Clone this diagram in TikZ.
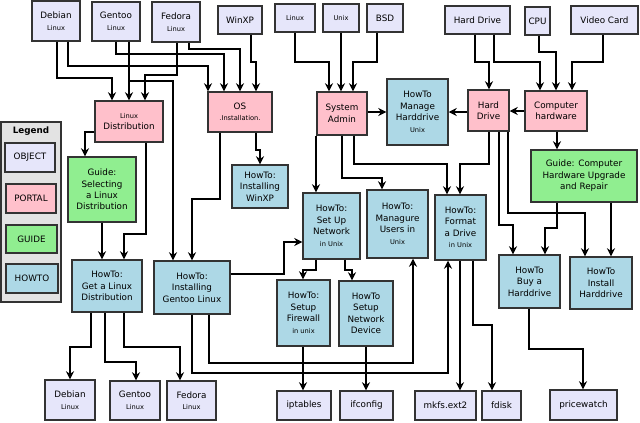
\documentclass[tikz,border=0pt]{standalone}
\usepackage{fontspec}
\setmainfont{DejaVu Sans}
\usetikzlibrary{arrows.meta}
\definecolor{objc}{HTML}{E6E6FA}
\definecolor{porc}{HTML}{FFC0CB}
\definecolor{guic}{HTML}{90EE90}
\definecolor{howc}{HTML}{ADD8E6}
\newcommand{\sm}[1]{{\fontsize{5}{7}\selectfont #1}}
\begin{document}
\begin{tikzpicture}[x=0.75pt,y=-0.75pt,
  bx/.style 2 args={draw=black!80,line width=1.1pt,minimum width=#1*0.75pt,minimum height=#2*0.75pt,inner sep=0pt,align=center,font=\fontsize{6.6}{8.6}\selectfont},
  obj/.style={fill=objc},por/.style={fill=porc},gui/.style={fill=guic},how/.style={fill=howc},
  a/.style={draw=black,line width=1pt,-{Stealth[length=6pt,width=6pt]}}]
\useasboundingbox (0,0) rectangle (640,422);
\fill[gray!22] (1,122) rectangle (61,302);
\draw[line width=1.1pt,black!80] (1,122) rectangle (61,302);
\node[font=\fontsize{6.6}{8}\selectfont\bfseries] (lg) at (31,131) {Legend};
\node[bx={50}{29},obj] (l1) at (30,157.5) {OBJECT};
\node[bx={50}{29},por] (l2) at (31,198.5) {PORTAL};
\node[bx={51}{28},gui] (l3) at (31.5,239) {GUIDE};
\node[bx={52}{29},how] (l4) at (32,278.5) {HOWTO};
% objects top
\node[bx={48}{40},obj] (deb1) at (56,21) {Debian\\\sm{Linux}};
\node[bx={48}{39},obj] (gen1) at (116,21.5) {Gentoo\\\sm{Linux}};
\node[bx={48}{40},obj] (fed1) at (176,22) {Fedora\\\sm{Linux}};
\node[bx={44}{28},obj] (xp1) at (240,20) {WinXP};
\node[bx={40}{28},obj] (lin) at (295,18) {\sm{Linux}};
\node[bx={36}{28},obj] (unx) at (341,18) {\sm{Unix}};
\node[bx={36}{28},obj] (bsd) at (385,18) {BSD};
\node[bx={65}{28},obj] (hdo) at (477.5,20) {Hard Drive};
\node[bx={25}{28},obj] (cpu) at (537.5,21) {CPU};
\node[bx={67}{28},obj] (vid) at (604.5,20) {Video Card};
% portals
\node[bx={68}{41},por] (ldist) at (129,121.5) {\sm{Linux}\\Distribution};
\node[bx={64}{40},por] (os) at (240,112) {OS\\\sm{.Installation.}};
\node[bx={50}{43},por] (sys) at (342,113.5) {System\\Admin};
\node[bx={41}{41},por] (hdp) at (488.5,110.5) {Hard\\Drive};
\node[bx={62}{40},por] (chw) at (556,111) {Computer\\hardware};
% guides
\node[bx={68}{65},gui] (gsel) at (102,189.5) {Guide:\\Selecting\\a Linux\\Distribution};
\node[bx={106}{52},gui] (gcomp) at (584,176) {Guide: Computer\\Hardware Upgrade\\and Repair};
% howtos
\node[bx={61}{66},how] (mhd) at (417.5,112) {HowTo\\Manage\\Harddrive\\\sm{Unix}};
\node[bx={56}{43},how] (xp2) at (260,186.5) {HowTo:\\Installing\\WinXP};
\node[bx={57}{66},how] (net) at (331.5,226) {HowTo:\\Set Up\\Network\\\sm{in Unix}};
\node[bx={61}{68},how] (usr) at (397.5,224) {HowTo:\\Managure\\Users in\\\sm{Unix}};
\node[bx={51}{65},how] (fmt) at (460.5,227.5) {HowTo:\\Format\\a Drive\\\sm{in Unix}};
\node[bx={61}{53},how] (buy) at (529.5,281.5) {HowTo\\Buy a\\Harddrive};
\node[bx={62}{52},how] (inst) at (601,283) {HowTo\\Install\\Harddrive};
\node[bx={70}{52},how] (getl) at (107,286) {HowTo:\\Get a Linux\\Distribution};
\node[bx={76}{53},how] (igen) at (192,287.5) {HowTo:\\Installing\\Gentoo Linux};
\node[bx={53}{66},how] (fw) at (303.5,313) {HowTo:\\Setup\\Firewall\\\sm{in unix}};
\node[bx={54}{65},how] (nd) at (366,313.5) {HowTo\\Setup\\Network\\Device};
% bottom objects
\node[bx={50}{40},obj] (deb2) at (70,400) {Debian\\\sm{Linux}};
\node[bx={50}{39},obj] (gen2) at (135,400.5) {Gentoo\\\sm{Linux}};
\node[bx={49}{39},obj] (fed2) at (191.5,400.5) {Fedora\\\sm{Linux}};
\node[bx={54}{29},obj] (ipt) at (304,405.5) {iptables};
\node[bx={53}{29},obj] (ifc) at (366.5,405.5) {ifconfig};
\node[bx={61}{29},obj] (mkfs) at (445.5,405.5) {mkfs.ext2};
\node[bx={39}{29},obj] (fdk) at (501.5,405.5) {fdisk};
\node[bx={67}{30},obj] (pw) at (583.5,405) {pricewatch};
% edges
\draw[a] (deb1.south -| 57,0) |- (112,78) -- (ldist.north -| 112,0);
\draw[a] (deb1.south -| 68,0) |- (208,66) -- (os.north -| 208,0);
\draw[a] (gen1.south -| 116,0) |- (224,54) -- (os.north -| 224,0);
\draw[a] (gen1.south -| 129,0) -- (ldist.north -| 129,0);
\draw[a] (gen1.south -| 129,0) |- (173,81) -- (igen.north -| 173,0);
\draw[a] (fed1.south -| 177,0) |- (145,75) -- (ldist.north -| 145,0);
\draw[a] (fed1.south -| 189,0) |- (240,49) -- (os.north -| 240,0);
\draw[a] (xp1.south -| 251,0) |- (256,62) -- (os.north -| 256,0);
\draw[a] (os.south -| 256,0) |- (260,150) -- (xp2.north -| 260,0);
\draw[a] (os.south -| 220,0) |- (192,199) -- (igen.north -| 192,0);
\draw[a] (lin.south -| 295,0) |- (329,62) -- (sys.north -| 329,0);
\draw[a] (unx.south -| 341,0) -- (sys.north -| 341,0);
\draw[a] (bsd.south -| 377,0) |- (353,62) -- (sys.north -| 353,0);
\draw[a] (ldist.west |- 0,132) -| (gsel.north -| 85,0);
\draw[a] (ldist.south -| 146,0) |- (124,234) -- (getl.north -| 124,0);
\draw[a] (gsel.south -| 102,0) -- (getl.north -| 102,0);
\draw[a] (getl.south -| 91,0) |- (70,347) -- (deb2.north -| 70,0);
\draw[a] (getl.south -| 105,0) |- (136,362) -- (gen2.north -| 136,0);
\draw[a] (getl.south -| 124,0) |- (180,347) -- (fed2.north -| 180,0);
\draw[a] (igen.east |- 0,274) -| (284,242) -- (net.west |- 0,242);
\draw[a] (igen.south -| 209,0) |- (413,363) -- (usr.south -| 413,0);
\draw[a] (igen.south -| 192,0) |- (448,373) -- (fmt.south -| 448,0);
\draw[a] (fw.south -| 303,0) -- (ipt.north -| 303,0);
\draw[a] (nd.south -| 366,0) -- (ifc.north -| 366,0);
\draw[a] (net.south -| 316,0) |- (303,270) -- (fw.north -| 303,0);
\draw[a] (net.south -| 345,0) |- (352,270) -- (nd.north -| 352,0);
\draw[a] (sys.south -| 316,0) -- (net.north -| 316,0);
\draw[a] (sys.south -| 342,0) |- (382,178) -- (usr.north -| 382,0);
\draw[a] (sys.south -| 354,0) |- (447,164) -- (fmt.north -| 447,0);
\draw[a] (sys.east |- 0,112) -- (mhd.west |- 0,112);
\draw[a] (hdp.west |- 0,112) -- (mhd.east |- 0,112);
\draw[a] (chw.west |- 0,111) -- (hdp.east |- 0,111);
\draw[a] (hdo.south -| 475,0) |- (489,62) -- (hdp.north -| 489,0);
\draw[a] (hdo.south -| 494,0) |- (540,62) -- (chw.north -| 540,0);
\draw[a] (cpu.south -| 539,0) |- (556,52) -- (chw.north -| 556,0);
\draw[a] (vid.south -| 603,0) |- (572,62) -- (chw.north -| 572,0);
\draw[a] (chw.south -| 557,0) -- (gcomp.north -| 557,0);
\draw[a] (hdp.south -| 489,0) |- (460,164) -- (fmt.north -| 460,0);
\draw[a] (hdp.south -| 499,0) |- (513,225) -- (buy.north -| 513,0);
\draw[a] (hdp.south -| 508,0) |- (585,213) -- (inst.north -| 585,0);
\draw[a] (gcomp.south -| 557,0) |- (545,228) -- (buy.north -| 545,0);
\draw[a] (gcomp.south -| 611,0) -- (inst.north -| 611,0);
\draw[a] (fmt.south -| 460,0) -- (mkfs.north -| 460,0);
\draw[a] (fmt.south -| 473,0) |- (492,325) -- (fdk.north -| 492,0);
\draw[a] (buy.south -| 529,0) |- (583,349) -- (pw.north -| 583,0);
\end{tikzpicture}
\end{document}
